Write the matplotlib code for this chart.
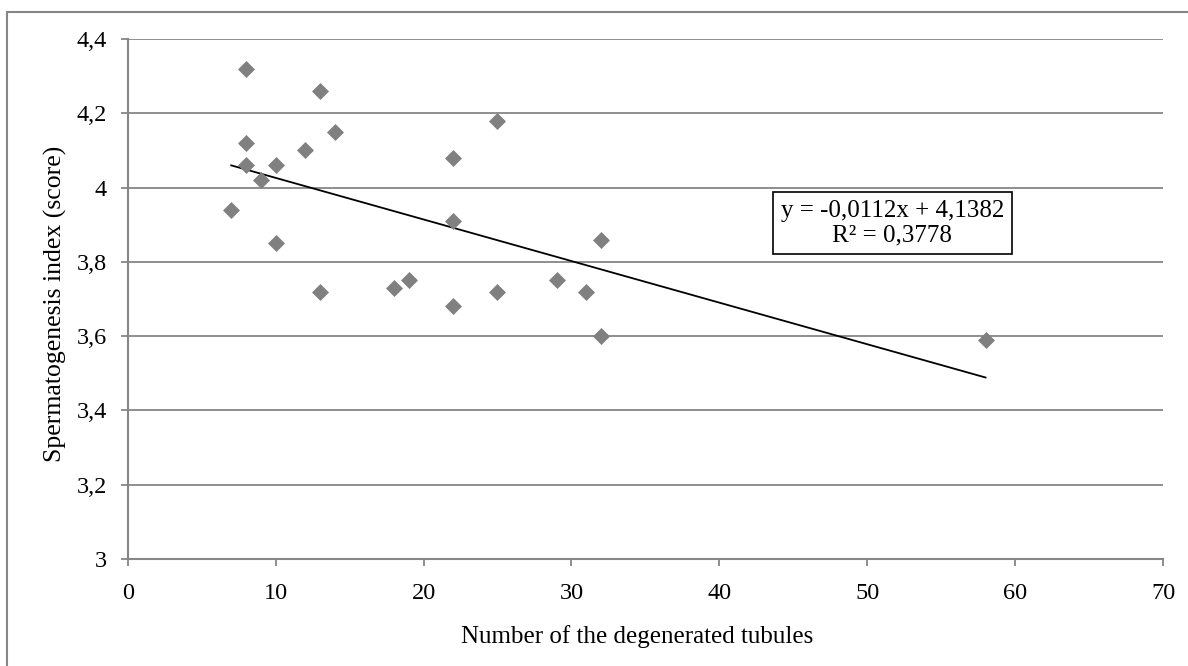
import numpy as np
import matplotlib.pyplot as plt
import matplotlib.ticker as ticker
from matplotlib.patches import Rectangle

plt.rcParams['font.family'] = ['Liberation Serif', 'DejaVu Serif']
plt.rcParams['font.size'] = 18

# datos
tubulos = [7, 8, 8, 8, 9, 10, 10, 12, 13, 13, 14, 18, 19, 22, 22, 22, 25, 25, 29, 31, 32, 32, 58]
indice = [3.94, 4.32, 4.12, 4.06, 4.02, 4.06, 3.85, 4.10, 4.26, 3.72, 4.15, 3.73, 3.75,
          4.08, 3.91, 3.68, 4.18, 3.72, 3.75, 3.72, 3.86, 3.60, 3.59]

pendiente = -0.0112
ordenada = 4.1382
r2 = 0.3778

gris = '#868686'

fig = plt.figure(figsize=(11.88, 6.66), dpi=100)
ax = fig.add_axes([0.1075, 0.1607, 0.9790 - 0.1075, 0.9414 - 0.1607])

# marco exterior
fig.patches.append(Rectangle((7 / 1188, -0.05), 1.2, 1 - 12 / 666 + 0.05,
                             transform=fig.transFigure, fill=False,
                             edgecolor=gris, linewidth=1.5))

ax.scatter(tubulos, indice, marker='D', s=75, color='#808080', zorder=3, linewidths=0)

x_lin = np.array([min(tubulos), max(tubulos)])
ax.plot(x_lin, pendiente * x_lin + ordenada, color='black', linewidth=1.3, zorder=2)

ax.set_xlim(0, 70)
ax.set_ylim(3, 4.4)
ax.xaxis.set_major_locator(ticker.MultipleLocator(10))
ax.yaxis.set_major_locator(ticker.MultipleLocator(0.2))
ax.yaxis.set_major_formatter(ticker.FuncFormatter(
    lambda v, p: ('%g' % round(v, 1)).replace('.', ',')))

ax.grid(axis='y', color=gris, linewidth=1.3)
ax.set_axisbelow(True)
for lado in ['top', 'right']:
    ax.spines[lado].set_visible(False)
for lado in ['left', 'bottom']:
    ax.spines[lado].set_color(gris)
    ax.spines[lado].set_linewidth(1.5)
ax.tick_params(color=gris, width=1.3, length=5, labelsize=17.5)
ax.tick_params(axis='y', pad=10)
ax.tick_params(axis='x', pad=12)

ax.set_xlabel('Number of the degenerated tubules')
ax.set_ylabel('Spermatogenesis index (score)', fontsize=18.5)
# posiciones de los titulos en coordenadas de pixeles
ax.xaxis.set_label_coords((637 - 127.7) / 1035.3, -(625 - 559) / 520, transform=ax.transAxes)
ax.xaxis.label.set_va('top')
ax.yaxis.set_label_coords(-(127.7 - 44) / 1035.3, (559 - 304) / 520, transform=ax.transAxes)
ax.yaxis.label.set_va('top')

texto = ('y = %s x + %s\nR² = %s' % (('%.4f' % pendiente).replace('.', ','),
                                     ('%.4f' % ordenada).replace('.', ','),
                                     ('%.4f' % r2).replace('.', ',')))
texto = texto.replace(' x', 'x')
ax.text(51.7, 3.905, texto, ha='center', va='center', fontsize=18, linespacing=1.15,
        bbox=dict(facecolor='white', edgecolor='black', linewidth=1.2,
                  boxstyle='square,pad=0.3'), zorder=4)

fig.savefig('out.png', dpi=100)
